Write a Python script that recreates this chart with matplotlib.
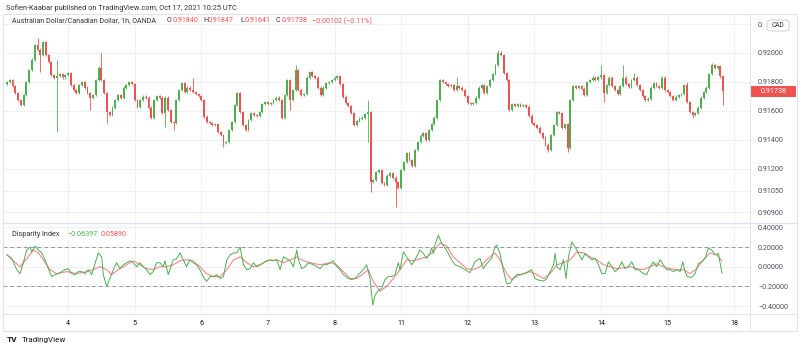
import matplotlib
matplotlib.use("Agg")
import matplotlib.pyplot as plt
from matplotlib.patches import Rectangle, FancyBboxPatch
from matplotlib.lines import Line2D

plt.rcParams['font.family'] = ['Roboto', 'DejaVu Sans']

# AUD/CAD 1h closes (bar index 0..258)
first_open = 0.91786
closes = [
    0.91800, 0.91814, 0.91772, 0.91724, 0.91676, 0.91641, 0.91710, 0.91800, 0.91883, 0.91952,
    0.92055, 0.92021, 0.91986, 0.92076, 0.91986, 0.91938, 0.91848, 0.91828, 0.91841, 0.91855,
    0.91834, 0.91848, 0.91862, 0.91779, 0.91745, 0.91724, 0.91779, 0.91800, 0.91759, 0.91724,
    0.91690, 0.91710, 0.91814, 0.91897, 0.91814, 0.91724, 0.91593, 0.91572, 0.91621, 0.91676,
    0.91710, 0.91690, 0.91759, 0.91779, 0.91800, 0.91786, 0.91676, 0.91628, 0.91676, 0.91697,
    0.91690, 0.91621, 0.91552, 0.91676, 0.91703, 0.91690, 0.91586, 0.91690, 0.91607, 0.91524,
    0.91517, 0.91676, 0.91745, 0.91793, 0.91731, 0.91759, 0.91745, 0.91731, 0.91717, 0.91703,
    0.91676, 0.91559, 0.91524, 0.91517, 0.91503, 0.91510, 0.91455, 0.91434, 0.91379, 0.91386,
    0.91469, 0.91524, 0.91641, 0.91724, 0.91593, 0.91503, 0.91469, 0.91538, 0.91586, 0.91572,
    0.91566, 0.91593, 0.91648, 0.91662, 0.91648, 0.91655, 0.91676, 0.91690, 0.91676, 0.91552,
    0.91710, 0.91814, 0.91676, 0.91745, 0.91883, 0.91745, 0.91710, 0.91717, 0.91828, 0.91869,
    0.91841, 0.91828, 0.91759, 0.91710, 0.91759, 0.91793, 0.91800, 0.91814, 0.91828, 0.91841,
    0.91786, 0.91697, 0.91655, 0.91634, 0.91586, 0.91503, 0.91531, 0.91545, 0.91552, 0.91579,
    0.91593, 0.91110, 0.91124, 0.91179, 0.91193, 0.91103, 0.91090, 0.91152, 0.91172, 0.91138,
    0.91110, 0.91069, 0.91193, 0.91248, 0.91310, 0.91262, 0.91221, 0.91331, 0.91386, 0.91428,
    0.91448, 0.91400, 0.91469, 0.91510, 0.91552, 0.91676, 0.91814, 0.91800, 0.91786, 0.91772,
    0.91779, 0.91745, 0.91772, 0.91759, 0.91745, 0.91703, 0.91655, 0.91648, 0.91655, 0.91690,
    0.91759, 0.91779, 0.91724, 0.91772, 0.91814, 0.91855, 0.91917, 0.92000, 0.91986, 0.91862,
    0.91814, 0.91607, 0.91648, 0.91634, 0.91648, 0.91634, 0.91641, 0.91628, 0.91566, 0.91517,
    0.91503, 0.91483, 0.91448, 0.91414, 0.91366, 0.91331, 0.91434, 0.91503, 0.91593, 0.91586,
    0.91483, 0.91510, 0.91345, 0.91676, 0.91772, 0.91759, 0.91772, 0.91752, 0.91710, 0.91800,
    0.91814, 0.91828, 0.91814, 0.91834, 0.91848, 0.91724, 0.91779, 0.91828, 0.91772, 0.91745,
    0.91717, 0.91772, 0.91828, 0.91786, 0.91766, 0.91814, 0.91828, 0.91779, 0.91745, 0.91703,
    0.91676, 0.91683, 0.91759, 0.91793, 0.91772, 0.91759, 0.91828, 0.91745, 0.91731, 0.91703,
    0.91676, 0.91697, 0.91710, 0.91717, 0.91779, 0.91662, 0.91593, 0.91572, 0.91586, 0.91621,
    0.91690, 0.91731, 0.91759, 0.91855, 0.91917, 0.91897, 0.91910, 0.91840, 0.91738,
]
# candles with visibly long wicks (bar index -> price)
long_highs = {11: 0.92106, 18: 0.91952, 34: 0.92000, 67: 0.91825, 104: 0.91920,
              130: 0.91676, 162: 0.91837, 177: 0.92021, 178: 0.92014, 214: 0.91917,
              222: 0.91917, 226: 0.91862, 245: 0.91802, 254: 0.91929, 258: 0.91847}
long_lows = {12: 0.91871, 18: 0.91455, 30: 0.91607, 36: 0.91517, 57: 0.91490,
             60: 0.91469, 78: 0.91354, 102: 0.91607, 130: 0.91386, 131: 0.91041,
             140: 0.90938, 195: 0.91317, 202: 0.91317, 215: 0.91664, 247: 0.91550,
             258: 0.91641}

# Disparity index (green) and its signal line (red)
di_x = [0, 1.7, 3.5, 4.7, 5.9, 7.1, 8.3, 8.9, 10.1, 11.3, 12.5, 13.7, 14.9, 16.1, 17.3, 18.5,
        19.7, 20.9, 22.1, 23.3, 24.5, 25.7, 26.9, 28.1, 29.3, 30.5, 31.7, 32.9, 34.1, 34.7,
        35.9, 37.1, 38.3, 39.5, 40.7, 41.9, 43.1, 44.3, 45.5, 46.7, 47.9, 49.1, 50.3, 51.5,
        52.7, 53.9, 55.1, 56.3, 56.9, 58.1, 58.7, 59.9, 61.1, 62.3, 63.5, 64.7, 65.9, 67.1,
        68.3, 69.5, 70.7, 71.9, 73.2, 74.4, 75.6, 76.8, 78.0, 79.2, 80.4, 81.6, 82.8, 84.0,
        85.2, 86.4, 87.6, 88.8, 90.0, 91.2, 92.4, 93.6, 94.8, 96.0, 97.2, 98.4, 99.6, 100.8,
        102.0, 103.2, 104.4, 105.0, 106.2, 107.4, 108.6, 110.4, 111.6, 112.8, 114.0, 115.2,
        116.4, 117.6, 118.8, 120.0, 121.2, 123.0, 124.2, 125.4, 126.6, 128.4, 129.6, 130.8,
        131.8, 132.6, 133.8, 135.0, 136.2, 137.4, 138.6, 139.8, 141.0, 141.6, 142.8, 144.0,
        145.8, 147.0, 148.8, 150.0, 151.2, 152.4, 153.0, 153.6, 154.2, 155.4, 156.6, 157.8,
        159.0, 160.2, 161.4, 163.2, 165.0, 166.8, 168.6, 170.4, 171.6, 172.8, 174.6, 175.8,
        176.4, 177.6, 178.8, 180.0, 181.2, 182.4, 183.6, 184.8, 186.6, 187.8, 189.0, 190.2,
        191.4, 193.3, 194.5, 195.7, 196.9, 197.5, 198.1, 199.3, 200.5, 201.4, 202.3, 203.5,
        204.7, 205.9, 207.1, 208.3, 209.5, 210.7, 211.9, 213.1, 214.3, 215.5, 216.7, 217.9,
        219.1, 220.3, 221.5, 222.7, 223.9, 225.1, 226.3, 227.5, 229.3, 230.5, 231.7, 232.9,
        234.1, 235.3, 236.5, 237.7, 238.9, 240.1, 241.3, 242.5, 243.5, 244.3, 245.1, 246.7,
        247.9, 249.1, 250.3, 251.5, 252.7, 253.9, 255.1, 256.3, 257.6]
di_green = [0.12, 0.085, -0.03, -0.07, 0.04, 0.17, 0.20, 0.15, 0.21, 0.17, 0.14, 0.07, -0.02,
            -0.10, -0.08, -0.07, -0.05, -0.03, -0.02, -0.07, -0.08, -0.05, -0.05, -0.07, -0.03,
            -0.08, 0.03, 0.14, 0.10, -0.08, -0.20, -0.12, -0.03, 0.04, -0.02, 0.02, 0.04, 0.06,
            0.04, 0.00, 0.04, 0.00, -0.03, -0.08, -0.05, 0.04, 0.04, 0.00, 0.06, -0.08, -0.03,
            0.07, 0.08, 0.14, 0.07, 0.00, 0.07, 0.04, 0.02, -0.03, -0.10, -0.15, -0.10, -0.10,
            -0.08, -0.12, -0.10, 0.07, 0.12, 0.14, 0.14, 0.20, 0.02, -0.03, -0.02, 0.04, 0.00,
            0.02, 0.04, 0.06, 0.07, 0.06, 0.07, -0.03, 0.10, 0.08, 0.06, 0.00, 0.17, 0.07, -0.02,
            0.00, 0.04, 0.02, 0.00, -0.02, 0.02, 0.02, 0.04, 0.06, 0.00, -0.03, -0.08, -0.12,
            -0.13, -0.12, -0.08, -0.03, 0.02, -0.12, -0.39, -0.29, -0.24, -0.22, -0.13, -0.10,
            -0.10, -0.08, 0.04, -0.03, 0.15, 0.10, 0.02, 0.07, 0.17, 0.135, 0.085, 0.135, 0.19,
            0.135, 0.22, 0.32, 0.24, 0.19, 0.135, 0.07, 0.02, 0.00, -0.03, -0.06, 0.05, 0.085,
            -0.02, 0.03, 0.085, 0.20, 0.22, 0.135, -0.03, -0.17, -0.17, -0.12, -0.08, -0.08,
            -0.07, -0.05, -0.03, -0.12, -0.135, -0.145, -0.12, -0.05, 0.02, 0.135, 0.00, -0.03,
            0.07, -0.12, 0.10, 0.25, 0.20, 0.135, 0.07, 0.135, 0.10, 0.07, 0.085, 0.02, -0.07,
            -0.07, 0.05, 0.00, -0.05, -0.02, 0.05, -0.02, 0.00, 0.05, -0.03, -0.03, -0.07, -0.08,
            0.00, 0.05, 0.00, 0.07, 0.02, -0.03, -0.03, -0.05, -0.03, -0.05, 0.05, -0.05, -0.10,
            -0.11, -0.07, 0.03, 0.05, 0.085, 0.19, 0.17, 0.12, 0.135, -0.064]
sig_x = [0, 2.3, 4.7, 7.1, 9.5, 11.3, 13.1, 15.5, 17.9, 21.5, 25.1, 28.7, 31.1, 33.5, 35.9,
         37.7, 40.1, 43.1, 45.5, 47.9, 50.3, 52.7, 55.1, 57.5, 59.9, 62.3, 64.7, 67.1, 69.5,
         71.9, 74.4, 76.8, 79.2, 81.6, 84.0, 86.4, 88.8, 91.2, 93.6, 97.2, 99.6, 102.0, 104.4,
         106.8, 109.2, 112.8, 116.4, 118.8, 121.2, 123.6, 126.0, 128.4, 130.2, 132.0, 134.4,
         136.8, 139.2, 141.6, 144.0, 146.4, 148.8, 151.2, 153.6, 156.0, 158.4, 160.8, 163.2,
         165.6, 168.0, 170.4, 172.8, 175.8, 177.6, 180.0, 181.8, 183.6, 186.0, 188.4, 190.9,
         193.3, 195.7, 198.1, 200.5, 202.9, 205.3, 207.7, 210.1, 212.5, 214.9, 217.3, 219.7,
         222.1, 224.5, 226.9, 229.3, 231.7, 234.1, 236.5, 238.9, 241.3, 243.7, 246.1, 248.5,
         250.9, 253.3, 255.7, 257.6]
sig_red = [0.12, 0.06, 0.00, 0.08, 0.17, 0.14, 0.07, -0.03, -0.07, -0.05, -0.07, -0.05, -0.03,
           0.00, -0.03, -0.08, -0.03, 0.02, 0.06, 0.02, -0.02, -0.03, 0.00, 0.00, 0.02, 0.06,
           0.07, 0.06, 0.00, -0.07, -0.10, -0.10, -0.03, 0.07, 0.10, 0.04, 0.00, 0.02, 0.06,
           0.07, 0.04, 0.07, 0.10, 0.06, 0.04, 0.02, 0.04, 0.02, -0.05, -0.12, -0.12, -0.07,
           -0.03, -0.15, -0.25, -0.20, -0.12, -0.03, 0.07, 0.06, 0.08, 0.10, 0.15, 0.24, 0.21,
           0.10, 0.04, -0.02, -0.03, 0.00, 0.07, 0.14, 0.07, -0.07, -0.13, -0.10, -0.07, -0.05,
           -0.08, -0.12, -0.07, 0.02, 0.04, 0.07, 0.15, 0.14, 0.10, 0.07, 0.02, 0.00, -0.02,
           -0.01, 0.00, -0.02, -0.03, 0.00, 0.03, 0.00, -0.02, -0.03, -0.03, -0.07, -0.02, 0.07,
           0.14, 0.12, 0.059]

price_ticks = [0.90900, 0.91050, 0.91200, 0.91400, 0.91600, 0.91800, 0.92000, 0.92200]
di_ticks = [-0.4, -0.2, 0.0, 0.2, 0.4]
day_idx = [22, 46, 70, 94, 118, 142, 166, 190, 214, 238, 262]
day_labels = ['4', '5', '6', '7', '8', '11', '12', '13', '14', '15', '18']

W, H = 800, 353
UP, DOWN = '#4caf50', '#ef5350'
GRID = '#eef0f4'
TXT = '#4a4e59'


def fig_box(x0, y0, x1, y1):
    return [x0 / W, 1 - y1 / H, (x1 - x0) / W, (y1 - y0) / H]


def ftext(x, y, s, **kw):
    kw.setdefault('va', 'center')
    return fig.text(x / W, 1 - y / H, s, **kw)


def fline(x0, y0, x1, y1, **kw):
    fig.add_artist(Line2D([x0 / W, x1 / W], [1 - y0 / H, 1 - y1 / H],
                          transform=fig.transFigure, **kw))


fig = plt.figure(figsize=(8, 3.53), dpi=100)
fig.patch.set_facecolor('white')
ax1 = fig.add_axes(fig_box(3, 14, 750, 222))
ax2 = fig.add_axes(fig_box(3, 224, 750, 314))

for ax in (ax1, ax2):
    ax.set_xlim(-1.44, 267.7)
    for s in ax.spines.values():
        s.set_visible(False)
    ax.set_xticks(day_idx)
    ax.grid(True, color=GRID, lw=0.8)
    ax.set_axisbelow(True)
    ax.yaxis.tick_right()
    ax.tick_params(length=0, labelsize=5.2, labelcolor=TXT, pad=5.8)

# candles
opens = [first_open] + closes[:-1]
for i, (o, c) in enumerate(zip(opens, closes)):
    col = UP if c >= o else DOWN
    hi = long_highs.get(i, max(o, c) + 0.0001)
    lo = long_lows.get(i, min(o, c) - 0.0001)
    ax1.vlines(i, lo, hi, color=col, lw=0.6)
    ax1.bar(i, max(abs(c - o), 0.00003), bottom=min(o, c), width=0.68, color=col, lw=0)

ax1.set_ylim(0.90834, 0.92269)
ax1.set_yticks(price_ticks)
# the top label is hidden behind the currency badge, only "0." shows
ax1.set_yticklabels(['%.5f' % p for p in price_ticks[:-1]] + ['0.'])
ax1.set_xticklabels([])

# indicator
ax2.plot(sig_x, sig_red, color='#f7868a', lw=0.8)
ax2.plot(di_x, di_green, color=UP, lw=0.7)
for lvl in (0.2, -0.2):
    ax2.axhline(lvl, color='#9598a1', lw=0.7, dashes=(4, 3))
ax2.set_ylim(-0.480, 0.4335)
ax2.set_yticks(di_ticks)
ax2.set_yticklabels([('%.5f' % v).replace('-', '\u2212') for v in di_ticks])
ax2.set_xticklabels(day_labels)
ax2.tick_params(axis='x', pad=4.0, labelcolor='#131722')

# frame and pane separators
fig.add_artist(Rectangle((3 / W, 1 - 331 / H), 794 / W, 317 / H, fill=False,
                         ec='#e0e3eb', lw=0.8, transform=fig.transFigure))
fline(750, 14, 750, 331, color='#e0e3eb', lw=0.8)
fline(3, 223, 797, 223, color='#e0e3eb', lw=1.0)
fline(3, 314, 797, 314, color='#e0e3eb', lw=0.8)

# texts
ftext(6, 8, 'Sofien-Kaabar published on TradingView.com, Oct 17, 2021 10:25 UTC',
      fontsize=5.3, color='#333333')
ftext(12, 21, 'Australian Dollar/Canadian Dollar, 1h, OANDA', fontsize=5.1, color='#333333')
for x, s, c in [(167, 'O', '#333333'), (173, '0.91840', DOWN), (203, 'H', '#333333'),
                (208, '0.91847', DOWN), (240, 'L', '#333333'), (245, '0.91641', DOWN),
                (276, 'C', '#333333'), (282, '0.91738', DOWN),
                (312, '\u22120.00102 (\u22120.11%)', DOWN)]:
    ftext(x, 21, s, fontsize=5.1, color=c)
ftext(12, 234, 'Disparity Index', fontsize=5.2, color='#333333')
ftext(67, 234, '\u22120.06397', fontsize=5.2, color=UP)
ftext(101, 234, '0.05890', fontsize=5.2, color=DOWN)

# last price label
fig.add_artist(Rectangle((751 / W, 1 - 97 / H), 45 / W, 11 / H, fc=DOWN, ec='none',
                         transform=fig.transFigure))
ftext(773.5, 91.5, '0.91738', fontsize=5.2, color='white', ha='center')

# currency badge
fig.add_artist(FancyBboxPatch((767 / W, 1 - 31 / H), 22 / W, 11 / H,
                              boxstyle='round,pad=0,rounding_size=0.006', fc='white',
                              ec='#c8cbd3', lw=0.6, transform=fig.transFigure))
ftext(778, 25.5, 'CAD', fontsize=4.8, color='#333333', ha='center')

# footer logo
ftext(7, 340, 'TV', fontsize=6, color='#131722', fontweight='bold')
ftext(22, 340, 'TradingView', fontsize=5.8, color='#131722')

fig.savefig('out.png', dpi=100)
